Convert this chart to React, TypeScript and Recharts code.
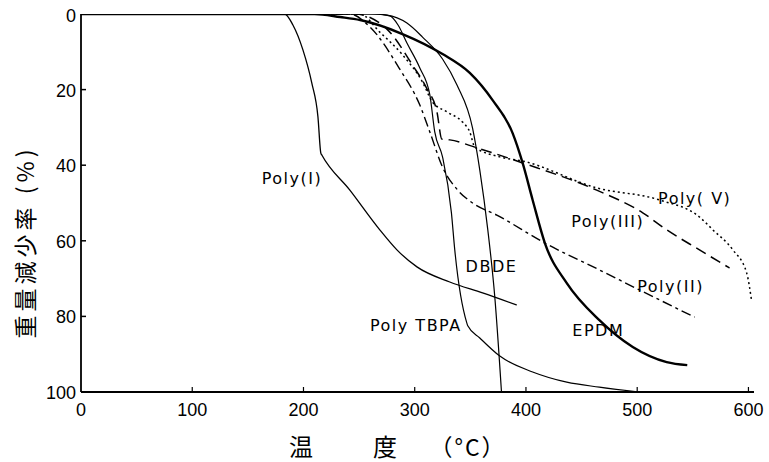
import React from 'react';
import { LineChart, Line, XAxis, YAxis, ReferenceDot, Customized } from 'recharts';

// Temperature (°C) / weight loss (%)
const polyITemp = [0, 183, 190.5, 199.5, 207.5, 213, 215.6, 216.5, 241.7, 268.6, 284, 302, 331.5, 361, 391.7];
const polyILoss = [0, 0, 2.9, 9.5, 18.3, 27.2, 36.8, 37.3, 46.6, 57.1, 62.4, 66.9, 70.9, 73.8, 77];

const tbpaTemp = [0, 264, 277.6, 285, 293, 304.6, 313.6, 318, 325, 333, 336, 346.8, 347.7, 358.5, 376.5, 406, 436.7, 466, 502];
const tbpaLoss = [0, 0, 0.5, 2.9, 7.7, 14.3, 21.4, 31.2, 37.8, 52.6, 62.4, 81.7, 82.5, 85.7, 90.5, 94.7, 97.4, 98.7, 100];

const dbdeTemp = [0, 260, 275, 293, 307, 325, 338, 352, 358.5, 365.7, 372, 378];
const dbdeLoss = [0, 0, 0.3, 2.4, 6.1, 11.9, 18.8, 30.2, 41.3, 57.1, 74.9, 100];

const epdmTemp = [0, 210, 233, 251, 289, 325, 349.5, 370, 388, 397, 406, 417, 436.7, 466, 496, 526.5, 545];
const epdmLoss = [0, 0, 0.8, 1.6, 5.3, 10.6, 15.6, 22.8, 31.5, 39.4, 49.2, 60.6, 71.2, 81, 88.1, 92.1, 92.9];

const polyIITemp = [0, 241.7, 259.7, 286.6, 304.6, 313.6, 325, 338.7, 352, 373.8, 417, 466, 502, 551.6];
const polyIILoss = [0, 0, 3.4, 14.6, 24.1, 31.2, 40.5, 46.6, 50, 53.2, 60.6, 67.7, 73, 80.2];

const polyIIITemp = [0, 246, 275, 298, 311, 320, 324.4, 331.5, 355.8, 397, 463.6, 505, 526.5, 556, 583];
const polyIIILoss = [0, 0, 4, 13.5, 19.8, 25.9, 33.1, 33.3, 35.4, 39.4, 46.6, 52.6, 57.1, 62.4, 67.2];

const polyVTemp = [0, 250.7, 268.6, 289, 307, 316, 329, 343, 349.5, 354, 376.5, 397, 463.6, 520, 556, 568, 586, 598.4, 603];
const polyVLoss = [0, 0, 4.8, 10.8, 18, 23.3, 25.9, 28.6, 31.2, 35.2, 37.8, 38.9, 46, 49.2, 53.7, 57.1, 62.4, 68.5, 76.2];

const xTicks = [0, 100, 200, 300, 400, 500, 600];
const yTicks = [0, 20, 40, 60, 80, 100];

const labelNames = ['Poly(I)', 'Poly TBPA', 'DBDE', 'EPDM', 'Poly(II)', 'Poly(III)', 'Poly( V)'];
const labelTemp = [189.6, 301, 369, 465, 530, 473.5, 551.7];
const labelLoss = [43.4, 82.5, 66.7, 83.6, 72, 55, 48.7];

const zip = (xs: number[], ys: number[]) => xs.map((x, i) => ({ x, y: ys[i] }));

const FONT = "'DejaVu Sans', sans-serif";
const NUMFONT = "'Liberation Sans', Arial, sans-serif";
const CJK = "'Noto Sans CJK JP', sans-serif";

const YTick = (props: any) => {
  const { x, y, payload } = props;
  const v = payload.value;
  return (
    <g>
      {v !== 0 && v !== 100 && (
        <line x1={x} x2={x + 5} y1={y} y2={y} stroke="#000" strokeWidth={1.5} />
      )}
      <text x={x - 5} y={y} dy={v === 0 ? 8 : 7} textAnchor="end" fontSize={18} fontFamily={NUMFONT} fill="#000">
        {v}
      </text>
    </g>
  );
};

const XTick = (props: any) => {
  const { x, y, payload } = props;
  const v = payload.value;
  return (
    <g>
      {v !== 0 && <line x1={x} x2={x} y1={y} y2={y - 5} stroke="#000" strokeWidth={1.2} />}
      <text x={x} y={y + 24} textAnchor="middle" fontSize={18} fontFamily={NUMFONT} fill="#000">
        {v}
      </text>
    </g>
  );
};

const Titles = () => (
  <g>
    <text x={301} y={456} textAnchor="middle" fontSize={24} fontFamily={CJK} fill="#000">温</text>
    <text x={385} y={456} textAnchor="middle" fontSize={24} fontFamily={CJK} fill="#000">度</text>
    <text x={468} y={456} textAnchor="middle" fontSize={23} letterSpacing={2} fontFamily={CJK} fill="#000">（°C）</text>
    <text
      x={24}
      y={242}
      transform="rotate(-90 24 242)"
      textAnchor="middle"
      dominantBaseline="central"
      fontSize={23}
      letterSpacing={4}
      fontFamily={CJK}
      fill="#000"
    >
      重量減少率 (%)
    </text>
  </g>
);

const LabelShape = (name: string) => (props: any) => (
  <text
    x={props.cx}
    y={props.cy}
    textAnchor="middle"
    dominantBaseline="central"
    fontSize={16}
    letterSpacing={1.5}
    fontFamily={FONT}
    fill="#000"
  >
    {name}
  </text>
);

export default function App() {
  return (
    <div style={{ position: 'absolute', left: 0, top: 0, width: 769, height: 462 }}>
      <LineChart width={769} height={462} margin={{ top: 14, right: 15, bottom: 0, left: 0 }}>
        <XAxis
          type="number"
          dataKey="x"
          domain={[0, 605]}
          ticks={xTicks}
          interval={0}
          allowDataOverflow
          height={70}
          tickSize={0}
          tickMargin={0}
          tick={<XTick />}
          axisLine={{ stroke: '#000', strokeWidth: 1.8 }}
          tickLine={false}
        />
        <YAxis
          type="number"
          dataKey="y"
          domain={[0, 100]}
          ticks={yTicks}
          interval={0}
          reversed
          allowDataOverflow
          width={81}
          tickSize={0}
          tickMargin={0}
          tick={<YTick />}
          axisLine={{ stroke: '#000', strokeWidth: 1.8 }}
          tickLine={false}
        />
        <Line data={zip(polyITemp, polyILoss)} dataKey="y" type="monotoneX" stroke="#000" strokeWidth={1.3} dot={false} isAnimationActive={false} />
        <Line data={zip(tbpaTemp, tbpaLoss)} dataKey="y" type="monotoneX" stroke="#000" strokeWidth={1.2} dot={false} isAnimationActive={false} />
        <Line data={zip(dbdeTemp, dbdeLoss)} dataKey="y" type="monotoneX" stroke="#000" strokeWidth={1.2} dot={false} isAnimationActive={false} />
        <Line data={zip(epdmTemp, epdmLoss)} dataKey="y" type="monotoneX" stroke="#000" strokeWidth={2.4} dot={false} isAnimationActive={false} />
        <Line data={zip(polyIITemp, polyIILoss)} dataKey="y" type="monotoneX" stroke="#000" strokeWidth={1.4} strokeDasharray="10 4 3 4" dot={false} isAnimationActive={false} />
        <Line data={zip(polyIIITemp, polyIIILoss)} dataKey="y" type="monotoneX" stroke="#000" strokeWidth={1.5} strokeDasharray="11 6" dot={false} isAnimationActive={false} />
        <Line data={zip(polyVTemp, polyVLoss)} dataKey="y" type="monotoneX" stroke="#000" strokeWidth={1.5} strokeDasharray="2 3" dot={false} isAnimationActive={false} />
        {labelNames.map((n, i) => (
          <ReferenceDot key={n} x={labelTemp[i]} y={labelLoss[i]} r={0} ifOverflow="visible" shape={LabelShape(n)} />
        ))}
        <Customized component={Titles} />
      </LineChart>
    </div>
  );
}
